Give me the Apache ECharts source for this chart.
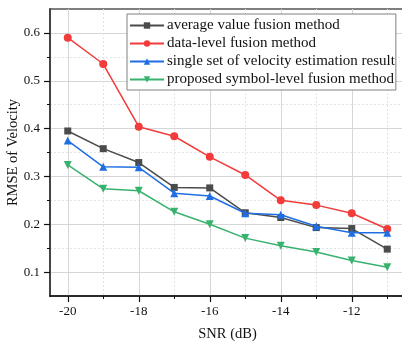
<!DOCTYPE html>
<html><head><meta charset="utf-8">
<script src="https://cdn.jsdelivr.net/npm/echarts@6/dist/echarts.min.js"></script>
<style>html,body{margin:0;padding:0;background:#fff}#c{width:402px;height:341px}</style>
</head><body><div id="c"></div>
<script>
const snr = [-20, -19, -18, -17, -16, -15, -14, -13, -12, -11];
const averageFusion = [0.395, 0.358, 0.329, 0.277, 0.276, 0.224, 0.214, 0.193, 0.191, 0.148];
const dataLevelFusion = [0.590, 0.535, 0.404, 0.384, 0.341, 0.303, 0.250, 0.240, 0.223, 0.190];
const singleSet = [0.375, 0.320, 0.319, 0.265, 0.259, 0.223, 0.220, 0.196, 0.182, 0.182];
const proposedFusion = [0.324, 0.274, 0.270, 0.226, 0.200, 0.171, 0.155, 0.142, 0.124, 0.110];
const seriesNames = ['average value fusion method','data-level fusion method','single set of velocity estimation result','proposed symbol-level fusion method'];
const xRange = [-20.5, -10.5];
const yRange = [0.05, 0.65];
const xMajorTicks = [-20, -12, 2];
const xMinorTicks = [-19, -11, 2];
const yMajorTicks = [0.1, 0.6, 0.1];
const yMinorTicks = [0.15, 0.55, 0.1];

const W = 402, H = 341;
const L = 50, R = -3, T = 9, B = 45;
const pw = W - L - R, ph = H - T - B;
const xp = v => L + (v - xRange[0]) / (xRange[1] - xRange[0]) * pw;
const yp = v => T + (yRange[1] - v) / (yRange[1] - yRange[0]) * ph;

const font = 'Liberation Serif';
const chart = echarts.init(document.getElementById('c'));
const pairs = a => snr.map((x, i) => [x, a[i]]);
const colors = ['#4b4b4b', '#f23b3b', '#1f6fe3', '#38b26e'];
const symbols = ['rect', 'circle', 'triangle', 'triangle'];
const data = [averageFusion, dataLevelFusion, singleSet, proposedFusion];
const g = o => Object.assign({outerBoundsMode: 'none', containLabel: false}, o);

chart.setOption({
  animation: false,
  grid: [
    g({left: L, right: R, top: T, bottom: B, show: true, borderColor: '#000', borderWidth: 1.2, backgroundColor: 'transparent'}),
    g({left: xp(xMajorTicks[0]), right: W - xp(xMajorTicks[1]), top: T, bottom: B}),
    g({left: xp(xMinorTicks[0]), right: W - xp(xMinorTicks[1]), top: T, bottom: B}),
    g({left: L, right: R, top: yp(yMajorTicks[1]), bottom: H - yp(yMajorTicks[0])}),
    g({left: L, right: R, top: yp(yMinorTicks[1]), bottom: H - yp(yMinorTicks[0])})
  ],
  xAxis: [
    {gridIndex: 0, type: 'value', min: xRange[0], max: xRange[1], axisLine: {show: true, lineStyle: {color: '#111', width: 1.6}}, axisTick: {show: false}, axisLabel: {show: false}, splitLine: {show: false},
     name: 'SNR (dB)', nameLocation: 'middle', nameGap: 31, nameTextStyle: {fontFamily: font, fontSize: 14.5, color: '#111'}},
    {gridIndex: 1, type: 'value', min: xMajorTicks[0], max: xMajorTicks[1], interval: xMajorTicks[2], axisLine: {show: false},
     axisTick: {show: true, inside: false, length: 6, lineStyle: {color: '#111', width: 1.2}},
     axisLabel: {show: true, margin: 9, fontFamily: font, fontSize: 13, color: '#111'},
     splitLine: {show: true, lineStyle: {color: '#d6d6d6', width: 1}}},
    {gridIndex: 2, type: 'value', min: xMinorTicks[0], max: xMinorTicks[1], interval: xMinorTicks[2], axisLine: {show: false},
     axisTick: {show: true, length: 3, lineStyle: {color: '#111', width: 1}},
     axisLabel: {show: false},
     splitLine: {show: true, lineStyle: {color: '#e4e4e4', width: 1, type: [2, 2]}}},
    {gridIndex: 3, type: 'value', show: false, min: 0, max: 1},
    {gridIndex: 4, type: 'value', show: false, min: 0, max: 1}
  ],
  yAxis: [
    {gridIndex: 0, type: 'value', min: yRange[0], max: yRange[1], axisLine: {show: true, lineStyle: {color: '#444', width: 2}}, axisTick: {show: false}, axisLabel: {show: false}, splitLine: {show: false},
     name: 'RMSE of Velocity', nameLocation: 'middle', nameGap: 29, nameRotate: 90, nameTextStyle: {fontFamily: font, fontSize: 14.5, color: '#111'}},
    {gridIndex: 1, type: 'value', show: false, min: 0, max: 1},
    {gridIndex: 2, type: 'value', show: false, min: 0, max: 1},
    {gridIndex: 3, type: 'value', min: yMajorTicks[0], max: yMajorTicks[1], interval: yMajorTicks[2], axisLine: {show: false},
     axisTick: {show: true, length: 6, lineStyle: {color: '#111', width: 1.2}},
     axisLabel: {show: true, margin: 10, fontFamily: font, fontSize: 13, color: '#111', formatter: v => v.toFixed(1)},
     splitLine: {show: true, lineStyle: {color: '#d6d6d6', width: 1}}},
    {gridIndex: 4, type: 'value', min: yMinorTicks[0], max: yMinorTicks[1], interval: yMinorTicks[2], axisLine: {show: false},
     axisTick: {show: true, length: 3, lineStyle: {color: '#111', width: 1}},
     axisLabel: {show: false},
     splitLine: {show: true, lineStyle: {color: '#e4e4e4', width: 1, type: [2, 2]}}}
  ],
  legend: {
    orient: 'vertical', left: 127, top: 14, padding: [4, 1, 3, 2],
    backgroundColor: '#fff', borderColor: '#808080', borderWidth: 1,
    itemWidth: 34, itemHeight: 8, itemGap: 3,
    textStyle: {fontFamily: font, fontSize: 15, color: '#111', padding: [0, 0, 0, -2]},
    data: seriesNames
  },
  series: seriesNames.map((n, i) => ({
    name: n, type: 'line', xAxisIndex: 0, yAxisIndex: 0, data: pairs(data[i]),
    symbol: symbols[i], symbolSize: i === 0 ? 7 : 8, symbolRotate: i === 3 ? 180 : 0,
    itemStyle: {color: colors[i]}, lineStyle: {color: colors[i], width: 1.5}, z: 3 + i
  }))
});
</script></body></html>
